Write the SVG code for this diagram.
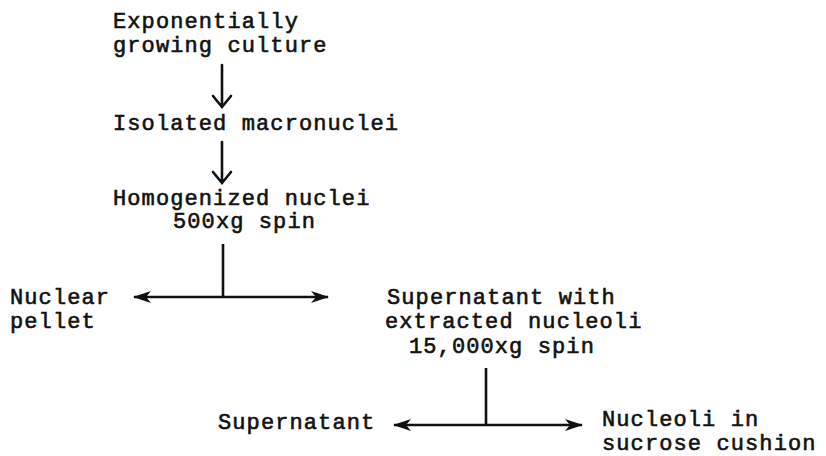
<svg xmlns="http://www.w3.org/2000/svg" width="826" height="456" viewBox="0 0 826 456">
<style>
text{font-family:"Liberation Mono","Courier New",monospace;font-size:22px;letter-spacing:1.1px;fill:#111;stroke:#111;stroke-width:0.6px}
.ln{stroke:#111;stroke-width:2.6;fill:none}
.dn{stroke:#111;stroke-width:2.6;fill:none;stroke-linecap:round}
</style>
<defs>
<marker id="ah" viewBox="0 0 18 14" refX="17" refY="7" markerWidth="18" markerHeight="14" markerUnits="userSpaceOnUse" orient="auto-start-reverse">
<path d="M0,1 L18,7 L0,13 L5,7 z" fill="#111"/>
</marker>
</defs>
<rect width="826" height="456" fill="#fff"/>
<g id="culture"><text x="113" y="28">Exponentially</text><text x="113" y="52">growing culture</text></g>
<g id="macronuclei"><text x="113" y="130">Isolated macronuclei</text></g>
<g id="homogenized"><text x="113" y="205">Homogenized nuclei</text><text x="173" y="228">500xg spin</text></g>
<g id="pellet"><text x="10" y="304">Nuclear</text><text x="10" y="328">pellet</text></g>
<g id="supernatant1"><text x="387" y="304">Supernatant with</text><text x="385" y="328">extracted nucleoli</text><text x="409" y="353">15,000xg spin</text></g>
<g id="supernatant2"><text x="218" y="429">Supernatant</text></g>
<g id="nucleoli"><text x="602" y="426">Nucleoli in</text><text x="602" y="450">sucrose cushion</text></g>
<g id="connectors">
<path class="dn" d="M222,65 V106 M213,96 L222,107 L231,96"/>
<path class="dn" d="M222,142 V182 M213,172 L222,183 L231,172"/>
<path class="ln" d="M223,244 V297"/>
<path class="ln" d="M134,297 H328" marker-start="url(#ah)" marker-end="url(#ah)"/>
<path class="ln" d="M486,368 V425"/>
<path class="ln" d="M394,425 H582" marker-start="url(#ah)" marker-end="url(#ah)"/>
</g>
</svg>
